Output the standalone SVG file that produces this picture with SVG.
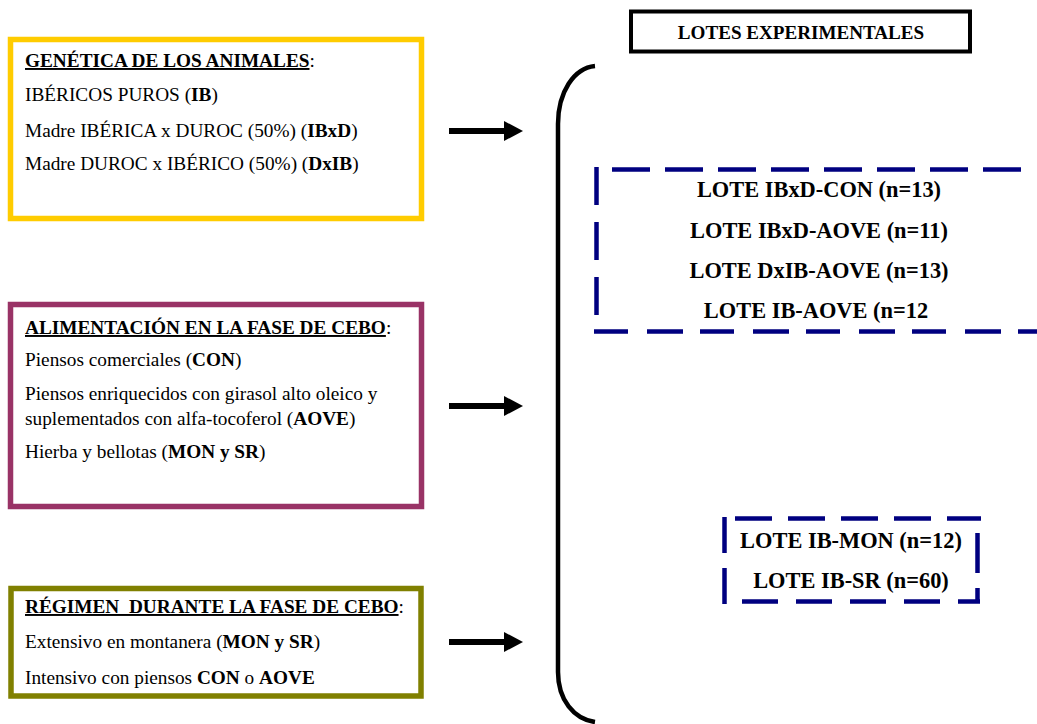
<svg xmlns="http://www.w3.org/2000/svg" width="1037" height="724" viewBox="0 0 1037 724">
  <style>
    text { font-family: "Liberation Serif", "Times New Roman", serif; fill: #000; }
    .body { font-size: 19.3px; }
    .b { font-weight: bold; }
    .u { font-weight: bold; text-decoration: underline; }
    .lote { font-size: 22.4px; font-weight: bold; text-anchor: middle; }
    .frame { fill: #fff; stroke-width: 5.5; }
    .dash { fill: none; stroke: #000080; stroke-width: 4.5; }
    .arrow { stroke: #000; stroke-width: 6; marker-end: url(#head); }
  </style>
  <defs>
    <marker id="head" markerUnits="userSpaceOnUse" markerWidth="20" markerHeight="22" refX="0" refY="10" orient="auto">
      <path d="M0,0 L19,10 L0,20 Z" fill="#000"/>
    </marker>
  </defs>

  <rect width="1037" height="724" fill="#fff"/>

  <!-- Header -->
  <g id="lotes-title">
    <rect x="631" y="11.5" width="339" height="40" fill="#fff" stroke="#000" stroke-width="4"/>
    <text x="801" y="38.5" font-size="19.1" font-weight="bold" text-anchor="middle">LOTES EXPERIMENTALES</text>
  </g>

  <!-- Genetics box -->
  <g id="genetica">
    <rect class="frame" x="10.5" y="39.5" width="411" height="179" stroke="#FFCC00"/>
    <text class="body" x="25" y="67"><tspan class="u">GENÉTICA DE LOS ANIMALES</tspan>:</text>
    <text class="body" x="25" y="101">IBÉRICOS PUROS (<tspan class="b">IB</tspan>)</text>
    <text class="body" x="25" y="137">Madre IBÉRICA x DUROC (50%) (<tspan class="b">IBxD</tspan>)</text>
    <text class="body" x="25" y="170">Madre DUROC x IBÉRICO (50%) (<tspan class="b">DxIB</tspan>)</text>
  </g>

  <!-- Feeding box -->
  <g id="alimentacion">
    <rect class="frame" x="10.5" y="304.5" width="411" height="202" stroke="#993366"/>
    <text class="body" x="25" y="334"><tspan class="u">ALIMENTACIÓN EN LA FASE DE CEBO</tspan>:</text>
    <text class="body" x="25" y="366">Piensos comerciales (<tspan class="b">CON</tspan>)</text>
    <text class="body" x="25" y="400">Piensos enriquecidos con girasol alto oleico y</text>
    <text class="body" x="25" y="425">suplementados con alfa-tocoferol (<tspan class="b">AOVE</tspan>)</text>
    <text class="body" x="25" y="458">Hierba y bellotas (<tspan class="b">MON y SR</tspan>)</text>
  </g>

  <!-- Regime box -->
  <g id="regimen">
    <rect class="frame" x="11" y="588.5" width="410" height="107.5" stroke="#808000"/>
    <text class="body" x="25" y="613" xml:space="preserve"><tspan class="u">RÉGIMEN  DURANTE LA FASE DE CEBO</tspan>:</text>
    <text class="body" x="25" y="648">Extensivo en montanera (<tspan class="b">MON y SR</tspan>)</text>
    <text class="body" x="25" y="684">Intensivo con piensos <tspan class="b">CON</tspan> o <tspan class="b">AOVE</tspan></text>
  </g>

  <!-- Brace grouping the lots -->
  <g id="brace">
    <path d="M595,66 C574,68 558,92 558,124 L558,672 C558,700 574,719 595,722" fill="none" stroke="#000" stroke-width="4.5"/>
  </g>

  <!-- Lots fed with feed (CON / AOVE) -->
  <g id="lotes-pienso">
    <line class="dash" x1="612" y1="169.5" x2="1023" y2="169.5" stroke-dasharray="38 15"/>
    <line class="dash" x1="596.5" y1="167" x2="596.5" y2="316" stroke-dasharray="38 17"/>
    <line class="dash" x1="594" y1="331.5" x2="1037" y2="331.5" stroke-dasharray="34 19 36 17"/>
    <text class="lote" x="819" y="197">LOTE IBxD-CON (n=13)</text>
    <text class="lote" x="819" y="238">LOTE IBxD-AOVE (n=11)</text>
    <text class="lote" x="819" y="278">LOTE DxIB-AOVE (n=13)</text>
    <text class="lote" x="816" y="318">LOTE IB-AOVE (n=12</text>
  </g>

  <!-- Lots raised in montanera -->
  <g id="lotes-montanera">
    <line class="dash" x1="735" y1="518.5" x2="981" y2="518.5" stroke-dasharray="37 16"/>
    <line class="dash" x1="977.5" y1="533" x2="977.5" y2="603" stroke-dasharray="40 15"/>
    <line class="dash" x1="742" y1="601.5" x2="980" y2="601.5" stroke-dasharray="36 18"/>
    <line class="dash" x1="724.5" y1="517" x2="724.5" y2="605" stroke-dasharray="36 15"/>
    <text class="lote" x="851" y="548">LOTE IB-MON (n=12)</text>
    <text class="lote" x="851" y="588">LOTE IB-SR (n=60)</text>
  </g>

  <!-- Connectors -->
  <g id="connectors">
    <line class="arrow" x1="449" y1="131" x2="504" y2="131"/>
    <line class="arrow" x1="449" y1="406" x2="504" y2="406"/>
    <line class="arrow" x1="449" y1="642" x2="504" y2="642"/>
  </g>
</svg>
